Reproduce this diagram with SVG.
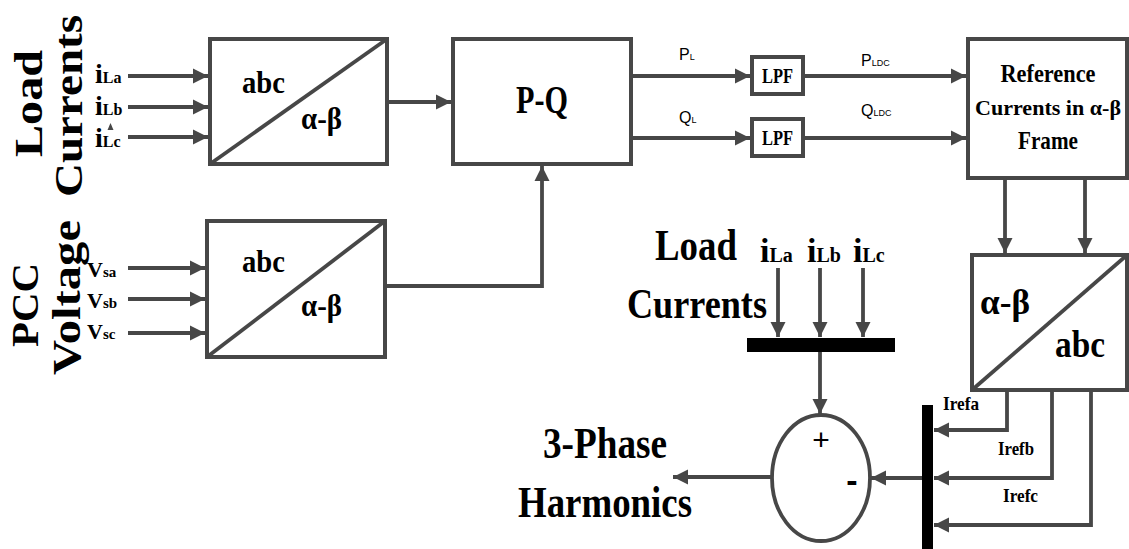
<svg xmlns="http://www.w3.org/2000/svg" width="1129" height="549" viewBox="0 0 1129 549">
<style>
.box{fill:#fff;stroke:#474747;stroke-width:4}
.ln{fill:none;stroke:#474747;stroke-width:3.8}
.arr{fill:none;stroke:#474747;stroke-width:3.8;marker-end:url(#ah)}
.bar{fill:#000}
.t{font-family:"Liberation Serif","Times New Roman",serif;font-weight:bold;fill:#000}
.s{font-family:"Liberation Sans",Arial,sans-serif;fill:#000}
</style>
<defs>
<marker id="ah" viewBox="0 0 10 10" refX="10" refY="5" markerWidth="15" markerHeight="16" markerUnits="userSpaceOnUse" orient="auto">
<path d="M0,0 L10,5 L0,10 z" fill="#474747"/>
</marker>
</defs>
<rect width="1129" height="549" fill="#fff"/>

<g id="label-load-currents-left">
<text class="t" font-size="40" transform="translate(42,157) rotate(-90)" textLength="107" lengthAdjust="spacingAndGlyphs">Load</text>
<text class="t" font-size="40" transform="translate(82,197) rotate(-90)" textLength="182" lengthAdjust="spacingAndGlyphs">Currents</text>
</g>
<g id="label-pcc-voltage">
<text class="t" font-size="38" transform="translate(38,347) rotate(-90)" textLength="84" lengthAdjust="spacingAndGlyphs">PCC</text>
<text class="t" font-size="40" transform="translate(80,375) rotate(-90)" textLength="155" lengthAdjust="spacingAndGlyphs">Voltage</text>
</g>

<g id="inputs-top-labels">
<text class="t" x="95" y="83"><tspan font-size="28">i</tspan><tspan font-size="16">La</tspan></text>
<text class="t" x="95" y="115"><tspan font-size="28">i</tspan><tspan font-size="16">Lb</tspan></text>
<text class="t" x="95" y="147"><tspan font-size="28">i</tspan><tspan font-size="16">Lc</tspan></text>
<polygon points="107.5,130 113.5,130 110.5,123" fill="#474747"/>
</g>
<g id="inputs-bottom-labels">
<text class="t" x="87" y="277"><tspan font-size="22">V</tspan><tspan font-size="15">sa</tspan></text>
<text class="t" x="87" y="308"><tspan font-size="22">V</tspan><tspan font-size="15">sb</tspan></text>
<text class="t" x="87" y="339"><tspan font-size="22">V</tspan><tspan font-size="15">sc</tspan></text>
</g>

<g id="abc-ab-1">
<rect class="box" x="210" y="39" width="177" height="125"/>
<line class="ln" x1="210" y1="164" x2="387" y2="39"/>
<text class="t" x="242" y="93" font-size="32" textLength="43" lengthAdjust="spacingAndGlyphs">abc</text>
<text class="t" x="301" y="129" font-size="31" textLength="41" lengthAdjust="spacingAndGlyphs">α-β</text>
</g>
<g id="abc-ab-2">
<rect class="box" x="207" y="221" width="178" height="136"/>
<line class="ln" x1="207" y1="357" x2="385" y2="221"/>
<text class="t" x="242" y="272" font-size="32" textLength="43" lengthAdjust="spacingAndGlyphs">abc</text>
<text class="t" x="301" y="316" font-size="31" textLength="41" lengthAdjust="spacingAndGlyphs">α-β</text>
</g>
<g id="pq">
<rect class="box" x="453" y="39" width="178" height="125"/>
<text class="t" x="542" y="113" font-size="40" text-anchor="middle" textLength="52" lengthAdjust="spacingAndGlyphs">P-Q</text>
</g>
<g id="lpf1">
<rect class="box" x="752" y="57" width="51" height="37"/>
<text class="t" x="777.5" y="83" font-size="22" text-anchor="middle" textLength="31" lengthAdjust="spacingAndGlyphs">LPF</text>
</g>
<g id="lpf2">
<rect class="box" x="752" y="119" width="51" height="37"/>
<text class="t" x="777.5" y="145" font-size="22" text-anchor="middle" textLength="31" lengthAdjust="spacingAndGlyphs">LPF</text>
</g>
<g id="ref-currents">
<rect class="box" x="968" y="39" width="159" height="139"/>
<text class="t" x="1048" y="82" font-size="26" text-anchor="middle" textLength="95" lengthAdjust="spacingAndGlyphs">Reference</text>
<text class="t" x="1048" y="115" font-size="22" text-anchor="middle" textLength="146" lengthAdjust="spacingAndGlyphs">Currents in α-β</text>
<text class="t" x="1048" y="149" font-size="26" text-anchor="middle" textLength="60" lengthAdjust="spacingAndGlyphs">Frame</text>
</g>
<g id="ab-abc">
<rect class="box" x="972" y="255" width="155" height="135"/>
<line class="ln" x1="972" y1="390" x2="1127" y2="255"/>
<text class="t" x="980" y="314" font-size="36" textLength="50" lengthAdjust="spacingAndGlyphs">α-β</text>
<text class="t" x="1055" y="357" font-size="38" textLength="50" lengthAdjust="spacingAndGlyphs">abc</text>
</g>

<g id="load-currents-mid">
<text class="t" x="655" y="260" font-size="45" textLength="82" lengthAdjust="spacingAndGlyphs">Load</text>
<text class="t" x="627" y="318" font-size="43" textLength="140" lengthAdjust="spacingAndGlyphs">Currents</text>
<text class="t" x="760" y="262"><tspan font-size="34">i</tspan><tspan font-size="20">La</tspan></text>
<text class="t" x="807" y="262"><tspan font-size="34">i</tspan><tspan font-size="20">Lb</tspan></text>
<text class="t" x="853" y="262"><tspan font-size="34">i</tspan><tspan font-size="20">Lc</tspan></text>
<rect class="bar" x="747" y="338" width="148" height="14"/>
</g>

<g id="sum">
<ellipse cx="821" cy="478" rx="49" ry="63" fill="#fff" stroke="#474747" stroke-width="3.8"/>
<text class="s" x="821" y="450" font-size="30" text-anchor="middle">+</text>
<text class="s" x="852" y="492" font-size="34" font-weight="bold" text-anchor="middle">-</text>
</g>

<g id="iref-bar">
<rect class="bar" x="922" y="405" width="11" height="144"/>
<text class="t" x="943" y="410" font-size="19" textLength="36" lengthAdjust="spacingAndGlyphs">Irefa</text>
<text class="t" x="998" y="455" font-size="19" textLength="36" lengthAdjust="spacingAndGlyphs">Irefb</text>
<text class="t" x="1003" y="502" font-size="19" textLength="35" lengthAdjust="spacingAndGlyphs">Irefc</text>
</g>

<g id="harmonics">
<text class="t" x="605" y="458" font-size="45" text-anchor="middle" textLength="124" lengthAdjust="spacingAndGlyphs">3-Phase</text>
<text class="t" x="605" y="517" font-size="45" text-anchor="middle" textLength="174" lengthAdjust="spacingAndGlyphs">Harmonics</text>
</g>

<g id="signal-labels">
<text class="s" x="679" y="60"><tspan font-size="16">P</tspan><tspan font-size="9">L</tspan></text>
<text class="s" x="679" y="123"><tspan font-size="16">Q</tspan><tspan font-size="9">L</tspan></text>
<text class="s" x="861" y="66"><tspan font-size="16">P</tspan><tspan font-size="9">LDC</tspan></text>
<text class="s" x="861" y="116"><tspan font-size="16">Q</tspan><tspan font-size="9">LDC</tspan></text>
</g>

<g id="connectors">
<path class="arr" d="M128,76 H208"/>
<path class="arr" d="M128,107 H208"/>
<path class="arr" d="M128,137 H208"/>
<path class="arr" d="M128,268 H205"/>
<path class="arr" d="M128,299 H205"/>
<path class="arr" d="M128,333 H205"/>
<path class="arr" d="M387,102 H451"/>
<path class="arr" d="M385,286 H542 V166"/>
<path class="arr" d="M631,76 H750"/>
<path class="arr" d="M631,138 H750"/>
<path class="arr" d="M803,76 H966"/>
<path class="arr" d="M803,138 H966"/>
<path class="arr" d="M1005,178 V253"/>
<path class="arr" d="M1085,178 V253"/>
<path class="arr" d="M778,268 V337"/>
<path class="arr" d="M820,268 V337"/>
<path class="arr" d="M863,268 V337"/>
<path class="arr" d="M820,352 V414"/>
<path class="arr" d="M1007,390 V430 H934"/>
<path class="arr" d="M1052,390 V478 H934"/>
<path class="arr" d="M1091,390 V525 H934"/>
<path class="arr" d="M922,478 H871"/>
<path class="arr" d="M772,477 H673"/>
</g>
</svg>
